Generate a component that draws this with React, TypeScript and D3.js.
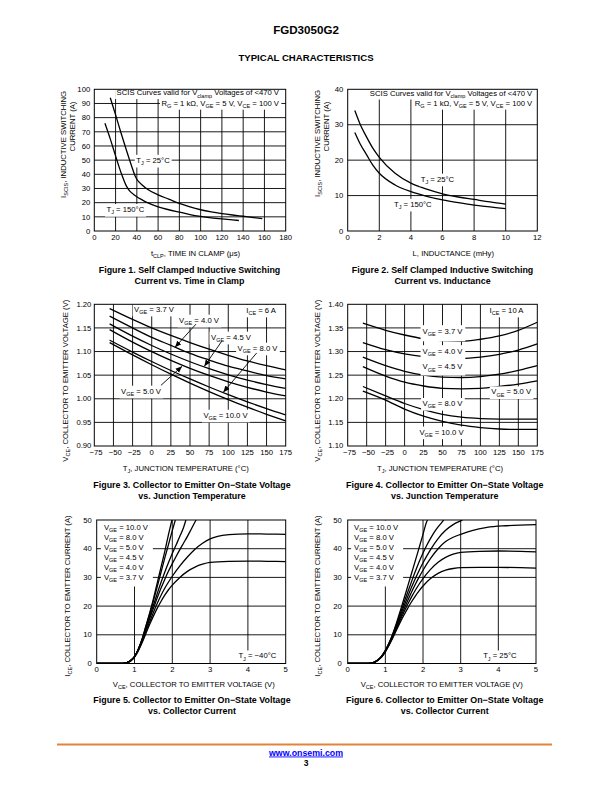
import React, { useEffect, useRef } from "react";
import * as d3 from "d3";

type Pt = [number, number];

// ---------------- Figure 1 : ISCIS vs time in clamp ----------------
const fig1XTicks = [0, 20, 40, 60, 80, 100, 120, 140, 160, 180];
const fig1YTicks = [0, 10, 20, 30, 40, 50, 60, 70, 80, 90, 100];
const fig1Tj25: Pt[] = [
  [15, 94], [20, 82], [25, 69.5], [30, 57.5], [35, 46], [38, 39.5], [40, 36.5], [45, 32.5],
  [50, 29.5], [60, 25.5], [70, 22.5], [80, 19.5], [90, 17], [100, 15], [110, 13.5],
  [120, 12.3], [130, 11.3], [140, 10.4], [150, 9.5], [158, 8.7],
];
const fig1Tj150: Pt[] = [
  [10, 76], [15, 65], [20, 53], [25, 41.5], [30, 32], [33, 28.5], [37, 25.8], [40, 24.2],
  [45, 22], [50, 20], [60, 17], [70, 15], [80, 13.3], [90, 11.6], [100, 10.3], [110, 9.3],
  [120, 8.5], [130, 7.8], [136, 7.4],
];

// ---------------- Figure 2 : ISCIS vs inductance ----------------
const fig2XTicks = [0, 2, 4, 6, 8, 10, 12];
const fig2YTicks = [0, 10, 20, 30, 40];
const fig2Tj25: Pt[] = [
  [0.45, 34], [0.8, 30], [1.2, 26.5], [1.6, 23.3], [2, 20.8], [3, 16.3], [4, 13.5],
  [5, 11.8], [6, 10.5], [7, 9.6], [8, 8.9], [9, 8.2], [10, 7.6],
];
const fig2Tj150: Pt[] = [
  [0.45, 27.8], [0.8, 24.5], [1.2, 21.5], [1.6, 18.5], [2, 16.3], [3, 13], [4, 11.1],
  [5, 9.8], [6, 8.8], [7, 8], [8, 7.3], [9, 6.8], [10, 6.3],
];

// ---------------- Figure 3 : VCE vs Tj, ICE = 6 A ----------------
const tempTicks = [-75, -50, -25, 0, 25, 50, 75, 100, 125, 150, 175];
const fig3YTicks = [0.9, 0.95, 1.0, 1.05, 1.1, 1.15, 1.2];
const fig3Vge37: Pt[] = [
  [-55, 1.191], [-25, 1.168], [0, 1.150], [25, 1.134], [50, 1.119], [75, 1.105],
  [100, 1.092], [125, 1.080], [150, 1.070], [175, 1.061],
];
const fig3Vge40: Pt[] = [
  [-55, 1.175], [-25, 1.150], [0, 1.130], [25, 1.113], [50, 1.096], [75, 1.082],
  [100, 1.069], [125, 1.059], [150, 1.049], [175, 1.042],
];
const fig3Vge45: Pt[] = [
  [-55, 1.1585], [-25, 1.1325], [0, 1.1128], [25, 1.0948], [50, 1.0784], [75, 1.0637],
  [100, 1.0508], [125, 1.0396], [150, 1.030], [175, 1.022],
];
const fig3Vge50: Pt[] = [
  [-55, 1.1465], [-25, 1.120], [0, 1.0998], [25, 1.0813], [50, 1.0644], [75, 1.0494],
  [100, 1.036], [125, 1.0243], [150, 1.0143], [175, 1.006],
];
const fig3Vge80: Pt[] = [
  [-55, 1.124], [-25, 1.0989], [0, 1.0789], [25, 1.0599], [50, 1.042], [75, 1.0249],
  [100, 1.0087], [125, 0.9935], [150, 0.9793], [175, 0.966],
];
const fig3Vge100: Pt[] = [
  [-55, 1.119], [-25, 1.0928], [0, 1.072], [25, 1.0521], [50, 1.0333], [75, 1.0153],
  [100, 0.9983], [125, 0.9822], [150, 0.9671], [175, 0.953],
];

// ---------------- Figure 4 : VCE vs Tj, ICE = 10 A ----------------
const fig4YTicks = [1.1, 1.15, 1.2, 1.25, 1.3, 1.35, 1.4];
const fig4Vge37: Pt[] = [
  [-55, 1.36], [-25, 1.345], [0, 1.335], [25, 1.327], [50, 1.323], [75, 1.322],
  [100, 1.326], [125, 1.333], [150, 1.345], [175, 1.362],
];
const fig4Vge40: Pt[] = [
  [-55, 1.319], [-25, 1.304], [0, 1.295], [25, 1.289], [50, 1.286], [75, 1.285],
  [100, 1.288], [125, 1.294], [150, 1.303], [175, 1.316],
];
const fig4Vge45: Pt[] = [
  [-55, 1.288], [-25, 1.27], [0, 1.258], [25, 1.25], [50, 1.246], [75, 1.245],
  [100, 1.247], [125, 1.252], [150, 1.26], [175, 1.27],
];
const fig4Vge50: Pt[] = [
  [-55, 1.268], [-25, 1.248], [0, 1.235], [25, 1.227], [50, 1.222], [75, 1.221],
  [100, 1.222], [125, 1.226], [150, 1.231], [175, 1.238],
];
const fig4Vge80: Pt[] = [
  [-55, 1.226], [-25, 1.206], [0, 1.19], [25, 1.177], [50, 1.167], [75, 1.161],
  [100, 1.158], [125, 1.157], [150, 1.157], [175, 1.157],
];
const fig4Vge100: Pt[] = [
  [-55, 1.216], [-25, 1.197], [0, 1.178], [25, 1.163], [50, 1.152], [75, 1.144],
  [100, 1.139], [125, 1.136], [150, 1.135], [175, 1.135],
];

// ---------------- Figure 5 : ICE vs VCE, Tj = -40 C ----------------
const vceTicks = [0, 1, 2, 3, 4, 5];
const iceTicks = [0, 10, 20, 30, 40, 50];
const fig5Vge100: Pt[] = [
  [0, 0], [0.7, 0], [0.8, 0.3], [0.9, 1], [1.0, 2.4], [1.1, 5], [1.2, 8.5], [1.3, 13],
  [1.4, 17.5], [1.5, 22.5], [1.6, 28], [1.7, 33.5], [1.8, 39], [1.9, 45], [1.99, 50],
];
const fig5Vge80: Pt[] = [
  [0, 0], [0.7, 0], [0.8, 0.3], [0.9, 1], [1.0, 2.4], [1.1, 5], [1.2, 8.5], [1.3, 12.8],
  [1.4, 17.2], [1.5, 21.8], [1.6, 26.7], [1.7, 31.7], [1.8, 36.7], [1.9, 41.5], [2.0, 46.3],
  [2.08, 50],
];
const fig5Vge50: Pt[] = [
  [0, 0], [0.7, 0], [0.8, 0.3], [0.9, 1], [1.0, 2.4], [1.1, 4.9], [1.2, 8.2], [1.3, 12.2],
  [1.4, 16.3], [1.5, 20.3], [1.6, 24.3], [1.7, 28.2], [1.8, 31.8], [1.9, 35.2], [2.0, 38.3],
  [2.1, 41.3], [2.2, 44.3], [2.3, 47.5], [2.36, 50],
];
const fig5Vge45: Pt[] = [
  [0, 0], [0.7, 0], [0.8, 0.3], [0.9, 1], [1.0, 2.4], [1.1, 4.8], [1.2, 8], [1.3, 11.8],
  [1.4, 15.6], [1.5, 19.2], [1.6, 22.8], [1.7, 26.2], [1.8, 29.3], [1.9, 32.2], [2.0, 34.8],
  [2.1, 37.3], [2.2, 39.7], [2.3, 42], [2.4, 44.3], [2.5, 46.8], [2.6, 49.3], [2.63, 50],
];
const fig5Vge40: Pt[] = [
  [0, 0], [0.7, 0], [0.8, 0.3], [0.9, 1], [1.0, 2.3], [1.1, 4.6], [1.2, 7.6], [1.3, 11.1],
  [1.4, 14.5], [1.5, 17.8], [1.6, 20.9], [1.7, 23.7], [1.8, 26.2], [1.9, 28.4], [2.0, 30.4],
  [2.2, 34], [2.4, 37.1], [2.6, 39.8], [2.8, 41.9], [3.0, 43.4], [3.2, 44.3], [3.5, 44.9],
  [4.0, 45.2], [4.5, 45.1], [5.0, 45],
];
const fig5Vge37: Pt[] = [
  [0, 0], [0.7, 0], [0.8, 0.3], [0.9, 1], [1.0, 2.2], [1.1, 4.4], [1.2, 7.2], [1.3, 10.4],
  [1.4, 13.6], [1.5, 16.5], [1.6, 19.2], [1.7, 21.6], [1.8, 23.8], [1.9, 25.7], [2.0, 27.3],
  [2.2, 30], [2.4, 32.1], [2.6, 33.6], [2.8, 34.6], [3.0, 35.2], [3.5, 35.6], [4.0, 35.7],
  [4.5, 35.6], [5.0, 35.5],
];

// ---------------- Figure 6 : ICE vs VCE, Tj = 25 C ----------------
const fig6Vge100: Pt[] = [
  [0, 0], [0.55, 0], [0.7, 0.4], [0.8, 1.2], [0.9, 2.6], [1.0, 4.6], [1.1, 7.2], [1.2, 10.5],
  [1.3, 14.3], [1.4, 18.5], [1.5, 22.8], [1.6, 27.2], [1.7, 31.6], [1.8, 36], [1.9, 40.5],
  [2.0, 45], [2.1, 49.5], [2.12, 50],
];
const fig6Vge80: Pt[] = [
  [0, 0], [0.55, 0], [0.7, 0.4], [0.8, 1.2], [0.9, 2.5], [1.0, 4.5], [1.1, 7.1], [1.2, 10.2],
  [1.3, 13.8], [1.4, 17.6], [1.5, 21.4], [1.6, 25.1], [1.7, 28.7], [1.8, 32.2], [1.9, 35.5],
  [2.0, 38.5], [2.1, 41.2], [2.2, 43.6], [2.3, 45.8], [2.4, 47.6], [2.5, 49.2], [2.55, 50],
];
const fig6Vge50: Pt[] = [
  [0, 0], [0.55, 0], [0.7, 0.4], [0.8, 1.2], [0.9, 2.5], [1.0, 4.4], [1.1, 7], [1.2, 9.9],
  [1.3, 13.3], [1.4, 16.8], [1.5, 20.2], [1.6, 23.5], [1.7, 26.7], [1.8, 29.7], [1.9, 32.5],
  [2.0, 35.1], [2.2, 39.7], [2.4, 43.5], [2.6, 46.4], [2.8, 48.4], [3.0, 49.7], [3.05, 50],
];
const fig6Vge45: Pt[] = [
  [0, 0], [0.55, 0], [0.7, 0.4], [0.8, 1.2], [0.9, 2.4], [1.0, 4.3], [1.1, 6.8], [1.2, 9.6],
  [1.3, 12.8], [1.4, 16], [1.5, 19.1], [1.6, 22.1], [1.7, 25], [1.8, 27.7], [1.9, 30.2],
  [2.0, 32.5], [2.2, 36.6], [2.4, 40], [2.6, 42.5], [2.8, 44], [3.0, 45], [3.3, 46.3],
  [3.7, 47.4], [4.2, 48], [5.0, 48.4],
];
const fig6Vge40: Pt[] = [
  [0, 0], [0.55, 0], [0.7, 0.4], [0.8, 1.1], [0.9, 2.3], [1.0, 4.2], [1.1, 6.6], [1.2, 9.3],
  [1.3, 12.3], [1.4, 15.3], [1.5, 18.1], [1.6, 20.8], [1.7, 23.3], [1.8, 25.6], [1.9, 27.7],
  [2.0, 29.6], [2.2, 32.8], [2.4, 35.3], [2.6, 37], [2.8, 38.1], [3.0, 38.7], [3.5, 39.1],
  [4.0, 39.2], [5.0, 38.9],
];
const fig6Vge37: Pt[] = [
  [0, 0], [0.55, 0], [0.7, 0.4], [0.8, 1.1], [0.9, 2.2], [1.0, 4.0], [1.1, 6.4], [1.2, 9],
  [1.3, 11.8], [1.4, 14.5], [1.5, 17], [1.6, 19.4], [1.7, 21.6], [1.8, 23.6], [1.9, 25.4],
  [2.0, 27], [2.2, 29.6], [2.4, 31.4], [2.6, 32.5], [2.8, 33.1], [3.0, 33.4], [3.5, 33.5],
  [4.0, 33.5], [5.0, 33.2],
];

const legendTexts = [
  "V_{GE} = 10.0 V",
  "V_{GE} = 8.0 V",
  "V_{GE} = 5.0 V",
  "V_{GE} = 4.5 V",
  "V_{GE} = 4.0 V",
  "V_{GE} = 3.7 V",
];

// ---------------- drawing helpers ----------------
const FONT = "'Liberation Sans', Arial, Helvetica, sans-serif";
const FS = 7.7;

type Sel = d3.Selection<any, unknown, null, undefined>;

function rich(t: Sel, str: string, size: number) {
  const parts = str.split(/(_\{[^}]*\})/).filter((p) => p.length > 0);
  let inSub = false;
  const shift = size * 0.28;
  parts.forEach((p) => {
    if (p.startsWith("_{")) {
      t.append("tspan")
        .attr("font-size", size * 0.72)
        .attr("dy", inSub ? 0 : shift)
        .text(p.slice(2, -1));
      inSub = true;
    } else {
      const s = t.append("tspan").text(p);
      if (inSub) s.attr("dy", -shift);
      inSub = false;
    }
  });
  return t;
}

function addText(
  g: Sel,
  x: number,
  y: number,
  str: string,
  opts: { size?: number; anchor?: string; weight?: string; rotate?: boolean; fill?: string } = {}
) {
  const size = opts.size ?? FS;
  const t = g
    .append("text")
    .attr("font-family", FONT)
    .attr("font-size", size)
    .attr("font-weight", opts.weight ?? "normal")
    .attr("text-anchor", opts.anchor ?? "start")
    .attr("fill", opts.fill ?? "#000");
  if (opts.rotate) t.attr("transform", `translate(${x},${y}) rotate(-90)`);
  else t.attr("x", x).attr("y", y);
  rich(t, str, size);
  return t;
}

interface Label {
  x: number;
  y: number; // vertical centre in data units
  text: string;
  anchor?: string;
  pad?: [number, number, number, number]; // left, top, right, bottom
}

interface Cfg {
  id: string;
  box: [number, number, number, number];
  xDomain: [number, number];
  yDomain: [number, number];
  xTicks: number[];
  yTicks: number[];
  fmtX: (d: number) => string;
  fmtY: (d: number) => string;
  xGrid: number[];
  yGrid: number[];
  series: Pt[][];
  labels: Label[];
  arrows?: { from: Pt; to: Pt }[];
  legend?: { x: number; ys: number[] };
  yTickRight: number;
  xTickBase: number;
  xTitle: { text: string; cx: number; base: number };
  yTitles: { text: string; x: number; y: number; anchor: string }[];
  caption: string[];
  capX: number;
  capY: number;
}

function labelWithBg(g: Sel, px: number, pyCenter: number, str: string, anchor: string, pad: number[]) {
  const lg = g.append("g");
  const rect = lg.append("rect").attr("fill", "#fff");
  const t = addText(lg, px, pyCenter + FS * 0.35, str, { anchor });
  const bb = (t.node() as SVGTextElement).getBBox();
  rect
    .attr("x", bb.x - pad[0])
    .attr("y", bb.y - pad[1])
    .attr("width", bb.width + pad[0] + pad[2])
    .attr("height", bb.height + pad[1] + pad[3]);
  return bb;
}

function drawChart(svg: Sel, c: Cfg) {
  const [L, T, R, B] = c.box;
  const x = d3.scaleLinear().domain(c.xDomain).range([L, R]);
  const y = d3.scaleLinear().domain(c.yDomain).range([B, T]);
  const g = svg.append("g");

  // grid
  g.selectAll("line.vg")
    .data(c.xGrid)
    .join("line")
    .attr("x1", (d) => x(d))
    .attr("x2", (d) => x(d))
    .attr("y1", T)
    .attr("y2", B)
    .attr("stroke", "#000")
    .attr("stroke-width", 0.9);
  g.selectAll("line.hg")
    .data(c.yGrid)
    .join("line")
    .attr("x1", L)
    .attr("x2", R)
    .attr("y1", (d) => y(d))
    .attr("y2", (d) => y(d))
    .attr("stroke", "#000")
    .attr("stroke-width", 0.9);

  // clip + curves
  svg
    .select("defs")
    .append("clipPath")
    .attr("id", "clip-" + c.id)
    .append("rect")
    .attr("x", L)
    .attr("y", T)
    .attr("width", R - L)
    .attr("height", B - T);
  const line = d3
    .line<Pt>()
    .x((d) => x(d[0]))
    .y((d) => y(d[1]))
    .curve(d3.curveMonotoneX);
  g.append("g")
    .attr("clip-path", `url(#clip-${c.id})`)
    .selectAll("path")
    .data(c.series)
    .join("path")
    .attr("d", (d) => line(d) as string)
    .attr("fill", "none")
    .attr("stroke", "#000")
    .attr("stroke-width", 1.3);

  // legend block (white box)
  if (c.legend) {
    const lg = g.append("g");
    const rect = lg.append("rect").attr("fill", "#fff");
    let x0 = Infinity, x1 = -Infinity, y1 = -Infinity;
    legendTexts.forEach((s, i) => {
      const t = addText(lg, x(c.legend!.x), y(c.legend!.ys[i]) + FS * 0.35, s, {});
      const bb = (t.node() as SVGTextElement).getBBox();
      x0 = Math.min(x0, bb.x);
      x1 = Math.max(x1, bb.x + bb.width);
      y1 = Math.max(y1, bb.y + bb.height);
    });
    rect
      .attr("x", x0 - 3)
      .attr("y", T + 0.5)
      .attr("width", x1 - x0 + 7)
      .attr("height", y1 - T + 3);
  }

  // labels
  c.labels.forEach((lb) => {
    labelWithBg(g, x(lb.x), y(lb.y), lb.text, lb.anchor ?? "middle", lb.pad ?? [1.5, 1, 1.5, 1.5]);
  });

  // arrows
  if (c.arrows) {
    g.selectAll("line.arrow")
      .data(c.arrows)
      .join("line")
      .attr("x1", (d) => x(d.from[0]))
      .attr("y1", (d) => y(d.from[1]))
      .attr("x2", (d) => x(d.to[0]))
      .attr("y2", (d) => y(d.to[1]))
      .attr("stroke", "#000")
      .attr("stroke-width", 0.9)
      .attr("marker-end", "url(#arrowhead)");
  }

  // frame
  g.append("rect")
    .attr("x", L)
    .attr("y", T)
    .attr("width", R - L)
    .attr("height", B - T)
    .attr("fill", "none")
    .attr("stroke", "#000")
    .attr("stroke-width", 1);

  // tick labels (negative labels nudged right so the minus sign hangs left of centre)
  c.xTicks.forEach((v) =>
    addText(g, x(v) + (v < 0 ? 1.8 : 0), c.xTickBase, c.fmtX(v), { anchor: "middle" })
  );
  c.yTicks.forEach((v, i) =>
    addText(g, c.yTickRight, y(v) + FS * 0.35 - (i === 0 && c.fmtY(v).includes(".") ? 1 : 0), c.fmtY(v), {
      anchor: "end",
    })
  );

  // titles
  addText(g, c.xTitle.cx, c.xTitle.base, c.xTitle.text, { anchor: "middle" });
  c.yTitles.forEach((yt) => addText(g, yt.x, yt.y, yt.text, { anchor: yt.anchor, rotate: true }));

  // caption
  c.caption.forEach((s, i) =>
    addText(g, c.capX, c.capY + i * 11, s, { anchor: "middle", weight: "bold", size: 8.9 })
  );
}

const minus = (s: string) => s.replace("-", "\u2212");
const fmtTemp = (d: number) => minus(String(d));
const fmtInt = (d: number) => String(d);
const fmt2 = (d: number) => d.toFixed(2);

const charts: Cfg[] = [
  {
    id: "f1",
    box: [94.3, 89.3, 285.7, 231],
    xDomain: [0, 180],
    yDomain: [0, 100],
    xTicks: fig1XTicks,
    yTicks: fig1YTicks,
    fmtX: fmtInt,
    fmtY: fmtInt,
    xGrid: fig1XTicks.slice(1, -1),
    yGrid: fig1YTicks.slice(1, -1),
    series: [fig1Tj25, fig1Tj150],
    labels: [
      { x: 173.7, y: 97.6, text: "SCIS Curves valid for V_{clamp} Voltages of <470 V", anchor: "end", pad: [1.5, 0.5, 1.5, 0.5] },
      { x: 173.7, y: 90.1, text: "R_{G} = 1 k\u03a9, V_{GE} = 5 V, V_{CE} = 100 V", anchor: "end", pad: [1.5, 0.5, 1.5, 0.5] },
      { x: 39.5, y: 50, text: "T_{J} = 25\u00b0C", anchor: "start" },
      { x: 11.5, y: 15.3, text: "T_{J} = 150\u00b0C", anchor: "start" },
    ],
    yTickRight: 90.2,
    xTickBase: 239.5,
    xTitle: { text: "t_{CLP}, TIME IN CLAMP (\u03bcs)", cx: 195.5, base: 256 },
    yTitles: [
      { text: "I_{SCIS}, INDUCTIVE SWITCHING", x: 66.3, y: 91, anchor: "end" },
      { text: "CURRENT (A)", x: 75, y: 126.5, anchor: "middle" },
    ],
    caption: ["Figure 1. Self Clamped Inductive Switching", "Current vs. Time in Clamp"],
    capX: 189.5,
    capY: 272.5,
  },
  {
    id: "f2",
    box: [347.7, 89.3, 537.3, 231],
    xDomain: [0, 12],
    yDomain: [0, 40],
    xTicks: fig2XTicks,
    yTicks: fig2YTicks,
    fmtX: fmtInt,
    fmtY: fmtInt,
    xGrid: fig2XTicks.slice(1, -1),
    yGrid: fig2YTicks.slice(1, -1),
    series: [fig2Tj25, fig2Tj150],
    labels: [
      { x: 11.68, y: 38.9, text: "SCIS Curves valid for V_{clamp} Voltages of <470 V", anchor: "end", pad: [1.5, 0.5, 1.5, 0.5] },
      { x: 11.68, y: 36.05, text: "R_{G} = 1 k\u03a9, V_{GE} = 5 V, V_{CE} = 100 V", anchor: "end", pad: [1.5, 0.5, 1.5, 0.5] },
      { x: 4.62, y: 14.7, text: "T_{J} = 25\u00b0C", anchor: "start" },
      { x: 2.93, y: 7.6, text: "T_{J} = 150\u00b0C", anchor: "start" },
    ],
    yTickRight: 343.3,
    xTickBase: 239.5,
    xTitle: { text: "L, INDUCTANCE (mHy)", cx: 453.3, base: 256 },
    yTitles: [
      { text: "I_{SCIS}, INDUCTIVE SWITCHING", x: 320, y: 90, anchor: "end" },
      { text: "CURRENT (A)", x: 329, y: 126.5, anchor: "middle" },
    ],
    caption: ["Figure 2. Self Clamped Inductive Switching", "Current vs. Inductance"],
    capX: 442.5,
    capY: 272.5,
  },
  {
    id: "f3",
    box: [94.3, 304.3, 285.7, 446],
    xDomain: [-75, 175],
    yDomain: [0.9, 1.2],
    xTicks: tempTicks,
    yTicks: fig3YTicks,
    fmtX: fmtTemp,
    fmtY: fmt2,
    xGrid: tempTicks.slice(1, -1),
    yGrid: fig3YTicks.slice(1, -1),
    series: [fig3Vge37, fig3Vge40, fig3Vge45, fig3Vge50, fig3Vge80, fig3Vge100],
    labels: [
      { x: 3, y: 1.19, text: "V_{GE} = 3.7 V" },
      { x: 142.9, y: 1.188, text: "I_{CE} = 6 A" },
      { x: 61.8, y: 1.1668, text: "V_{GE} = 4.0 V" },
      { x: 103.6, y: 1.1308, text: "V_{GE} = 4.5 V" },
      { x: 138.2, y: 1.1075, text: "V_{GE} = 8.0 V" },
      { x: -14, y: 1.0164, text: "V_{GE} = 5.0 V" },
      { x: 96.4, y: 0.9656, text: "V_{GE} = 10.0 V" },
    ],
    arrows: [
      { from: [57.8, 1.158], to: [30.4, 1.109] },
      { from: [91.4, 1.1217], to: [68.7, 1.0687] },
      { from: [137.1, 1.097], to: [93.5, 1.0137] },
      { from: [12.1, 1.0285], to: [39.6, 1.0687] },
    ],
    yTickRight: 91.4,
    xTickBase: 454.5,
    xTitle: { text: "T_{J}, JUNCTION TEMPERATURE (\u00b0C)", cx: 185.8, base: 471 },
    yTitles: [{ text: "V_{CE}, COLLECTOR TO EMITTER VOLTAGE (V)", x: 68, y: 461.7, anchor: "start" }],
    caption: ["Figure 3. Collector to Emitter On\u2212State Voltage", "vs. Junction Temperature"],
    capX: 192,
    capY: 487.5,
  },
  {
    id: "f4",
    box: [347.7, 304.3, 537.3, 446],
    xDomain: [-75, 175],
    yDomain: [1.1, 1.4],
    xTicks: tempTicks,
    yTicks: fig4YTicks,
    fmtX: fmtTemp,
    fmtY: fmt2,
    xGrid: tempTicks.slice(1, -1),
    yGrid: fig4YTicks.slice(1, -1),
    series: [fig4Vge37, fig4Vge40, fig4Vge45, fig4Vge50, fig4Vge80, fig4Vge100],
    labels: [
      { x: 134.4, y: 1.388, text: "I_{CE} = 10 A" },
      { x: 50, y: 1.3435, text: "V_{GE} = 3.7 V", pad: [2, 1.5, 2, 4.5] },
      { x: 50, y: 1.3011, text: "V_{GE} = 4.0 V", pad: [2, 1.5, 2, 4.5] },
      { x: 50, y: 1.2679, text: "V_{GE} = 4.5 V", pad: [2, 1.5, 2, 3] },
      { x: 140.6, y: 1.215, text: "V_{GE} = 5.0 V" },
      { x: 50, y: 1.1904, text: "V_{GE} = 8.0 V" },
      { x: 48.7, y: 1.13, text: "V_{GE} = 10.0 V" },
    ],
    yTickRight: 343.3,
    xTickBase: 454.5,
    xTitle: { text: "T_{J}, JUNCTION TEMPERATURE (\u00b0C)", cx: 440, base: 471 },
    yTitles: [{ text: "V_{CE}, COLLECTOR TO EMITTER VOLTAGE (V)", x: 320, y: 461.7, anchor: "start" }],
    caption: ["Figure 4. Collector to Emitter On\u2212State Voltage", "vs. Junction Temperature"],
    capX: 444.7,
    capY: 487.5,
  },
  {
    id: "f5",
    box: [96.7, 520, 285.7, 663.5],
    xDomain: [0, 5],
    yDomain: [0, 50],
    xTicks: vceTicks,
    yTicks: iceTicks,
    fmtX: fmtInt,
    fmtY: fmtInt,
    xGrid: vceTicks.slice(1, -1),
    yGrid: iceTicks.slice(1, -1),
    series: [fig5Vge100, fig5Vge80, fig5Vge50, fig5Vge45, fig5Vge40, fig5Vge37],
    labels: [{ x: 4.25, y: 2.7, text: "T_{J} = \u221240\u00b0C" }],
    legend: { x: 0.19, ys: [47.6, 44.1, 40.6, 37.1, 33.6, 30.1] },
    yTickRight: 91.7,
    xTickBase: 672,
    xTitle: { text: "V_{CE}, COLLECTOR TO EMITTER VOLTAGE (V)", cx: 193.8, base: 686.7 },
    yTitles: [{ text: "I_{CE}, COLLECTOR TO EMITTER CURRENT (A)", x: 69.5, y: 676.7, anchor: "start" }],
    caption: ["Figure 5. Collector to Emitter On\u2212State Voltage", "vs. Collector Current"],
    capX: 192,
    capY: 702.5,
  },
  {
    id: "f6",
    box: [347.7, 520, 536, 663.5],
    xDomain: [0, 5],
    yDomain: [0, 50],
    xTicks: vceTicks,
    yTicks: iceTicks,
    fmtX: fmtInt,
    fmtY: fmtInt,
    xGrid: vceTicks.slice(1, -1),
    yGrid: iceTicks.slice(1, -1),
    series: [fig6Vge100, fig6Vge80, fig6Vge50, fig6Vge45, fig6Vge40, fig6Vge37],
    labels: [{ x: 4.04, y: 2.7, text: "T_{J} = 25\u00b0C" }],
    legend: { x: 0.17, ys: [47.6, 44.1, 40.6, 37.1, 33.6, 30.1] },
    yTickRight: 341.7,
    xTickBase: 672,
    xTitle: { text: "V_{CE}, COLLECTOR TO EMITTER VOLTAGE (V)", cx: 441.7, base: 686.7 },
    yTitles: [{ text: "I_{CE}, COLLECTOR TO EMITTER CURRENT (A)", x: 319.5, y: 676.7, anchor: "start" }],
    caption: ["Figure 6. Collector to Emitter On\u2212State Voltage", "vs. Collector Current"],
    capX: 444.7,
    capY: 702.5,
  },
];

export default function App() {
  const ref = useRef<SVGSVGElement | null>(null);
  useEffect(() => {
    const svg = d3.select(ref.current) as unknown as Sel;
    svg.selectAll("*").remove();
    const defs = svg.append("defs");
    defs
      .append("marker")
      .attr("id", "arrowhead")
      .attr("markerUnits", "userSpaceOnUse")
      .attr("markerWidth", 7)
      .attr("markerHeight", 6)
      .attr("refX", 6.5)
      .attr("refY", 2.75)
      .attr("orient", "auto")
      .append("path")
      .attr("d", "M0,0 L6.5,2.75 L0,5.5 Z")
      .attr("fill", "#000");

    svg.append("rect").attr("width", 612).attr("height", 792).attr("fill", "#fff");

    // header
    addText(svg, 306, 34, "FGD3050G2", { anchor: "middle", weight: "bold", size: 11.6 });
    addText(svg, 306, 61.3, "TYPICAL CHARACTERISTICS", { anchor: "middle", weight: "bold", size: 9.6 });

    charts.forEach((c) => drawChart(svg, c));

    // footer
    svg
      .append("line")
      .attr("x1", 57)
      .attr("x2", 552)
      .attr("y1", 744.5)
      .attr("y2", 744.5)
      .attr("stroke", "#E0833D")
      .attr("stroke-width", 2);
    addText(svg, 306, 755.5, "www.onsemi.com", { anchor: "middle", weight: "bold", size: 8.8, fill: "#0000FF" }).attr(
      "text-decoration",
      "underline"
    );
    addText(svg, 306, 765.5, "3", { anchor: "middle", weight: "bold", size: 8.5 });
  }, []);

  return (
    <svg
      ref={ref}
      width={612}
      height={792}
      style={{ position: "absolute", left: 0, top: 0, background: "#fff" }}
    />
  );
}
